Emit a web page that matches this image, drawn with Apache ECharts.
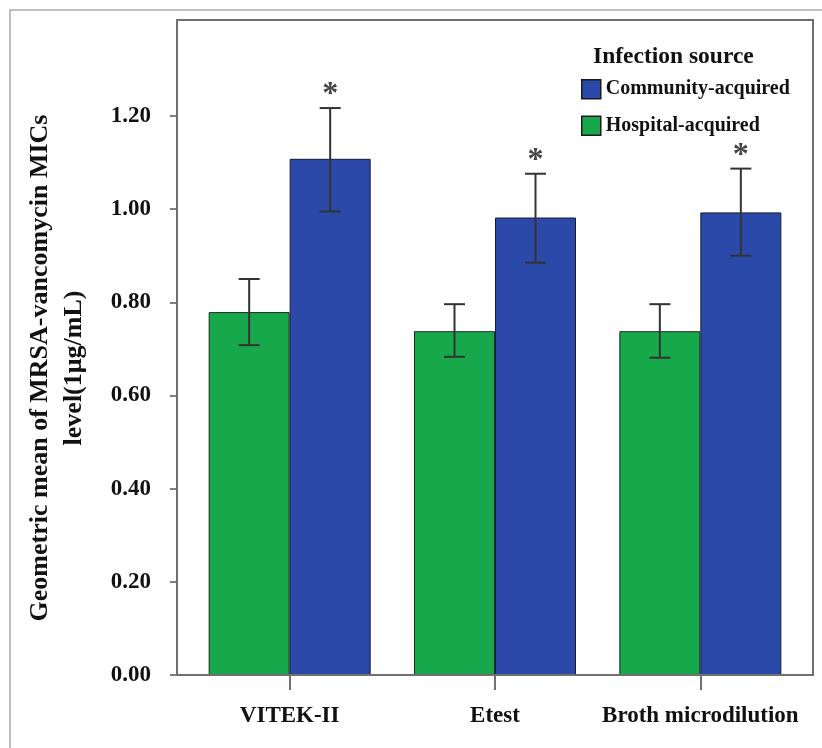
<!DOCTYPE html>
<html>
<head>
<meta charset="utf-8">
<script src="https://cdn.jsdelivr.net/npm/echarts@6/dist/echarts.min.js"></script>
<style>
    html, body { margin: 0; padding: 0; background: #fff; }
    #chart { width: 822px; height: 748px; }
</style>
</head>
<body>
<div id="chart"></div>
<script>
// data
const categories = ['VITEK-II', 'Etest', 'Broth microdilution']
const hospitalMean = [0.779, 0.738, 0.738]
const hospitalLow = [0.708, 0.683, 0.681]
const hospitalHigh = [0.850, 0.796, 0.796]
const communityMean = [1.108, 0.982, 0.993]
const communityLow = [0.995, 0.885, 0.900]
const communityHigh = [1.217, 1.076, 1.087]
const significant = ['*', '*', '*']
const yTicks = [0, 0.2, 0.4, 0.6, 0.8, 1.0, 1.2]

const FONT = "'Liberation Serif', 'Times New Roman', serif"
const GREEN = '#16a84b'
const BLUE = '#2b49a9'
const BAR_W = 81

const chart = echarts.init(document.getElementById('chart'))

function errorBar(sign) {
    return function (params, api) {
        const idx = api.value(0)
        const lo = api.coord([idx, api.value(1)])
        const hi = api.coord([idx, api.value(2)])
        const x = lo[0] + sign * BAR_W / 2
        const style = { stroke: '#333', lineWidth: 2 }
        const children = [
            { type: 'line', shape: { x1: x, y1: hi[1], x2: x, y2: lo[1] }, style: style },
            { type: 'line', shape: { x1: x - 10.5, y1: hi[1], x2: x + 10.5, y2: hi[1] }, style: style },
            { type: 'line', shape: { x1: x - 10.5, y1: lo[1], x2: x + 10.5, y2: lo[1] }, style: style }
        ]
        const mark = significant[idx]
        if (sign > 0 && mark) {
            children.push({
                type: 'text',
                style: {
                    x: x, y: hi[1] - 13, text: mark,
                    fill: '#444', font: 'bold 32px ' + FONT,
                    align: 'center', verticalAlign: 'middle'
                }
            })
        }
        return { type: 'group', children: children }
    }
}

const option = {
    animation: false,
    grid: { left: 187, right: 19, top: 20, bottom: 73 },
    legend: {
        data: ['Community-acquired', 'Hospital-acquired'],
        orient: 'vertical',
        left: 581,
        top: 79,
        padding: 0,
        icon: 'rect',
        itemWidth: 19,
        itemHeight: 19,
        itemGap: 16,
        itemStyle: { borderColor: '#1a1a1a', borderWidth: 1.5 },
        textStyle: { fontFamily: FONT, fontWeight: 'bold', fontSize: 20, color: '#111' }
    },
    xAxis: {
        type: 'category',
        data: categories,
        axisLine: { show: false },
        axisTick: { show: true, interval: 0, alignWithLabel: true, length: 15, lineStyle: { color: '#444', width: 1.5 } },
        axisLabel: { interval: 0, margin: 30, fontFamily: FONT, fontWeight: 'bold', fontSize: 23, color: '#111' }
    },
    yAxis: {
        type: 'value',
        min: 0,
        max: 1.406,
        offset: 10,
        splitLine: { show: false },
        axisLine: { show: false },
        axisTick: { show: true, customValues: yTicks, length: 7, lineStyle: { color: '#555', width: 1.5 } },
        axisLabel: {
            customValues: yTicks,
            margin: 26,
            fontFamily: FONT, fontWeight: 'bold', fontSize: 23, color: '#111',
            formatter: v => v.toFixed(2)
        }
    },
    graphic: [
        {
            type: 'rect', z: 0, silent: true,
            shape: { x: 10, y: 10, width: 900, height: 900 },
            style: { fill: 'none', stroke: '#aaa', lineWidth: 1.5 }
        },
        {
            type: 'rect', z: 100, silent: true,
            shape: { x: 177, y: 20, width: 636, height: 655 },
            style: { fill: 'none', stroke: '#707070', lineWidth: 2 }
        },
        {
            type: 'text', silent: true,
            x: 593, y: 57,
            style: {
                text: 'Infection source',
                font: 'bold 23.5px ' + FONT, fill: '#111',
                align: 'left', verticalAlign: 'middle'
            }
        },
        {
            type: 'text', silent: true,
            x: 57, y: 368, rotation: Math.PI / 2,
            style: {
                text: 'Geometric mean of MRSA-vancomycin MICs\nlevel(1μg/mL)',
                font: 'bold 26px ' + FONT, fill: '#111', lineHeight: 34,
                align: 'center', verticalAlign: 'middle'
            }
        }
    ],
    series: [
        {
            name: 'Hospital-acquired',
            type: 'bar',
            data: hospitalMean,
            barWidth: BAR_W,
            barGap: '0%',
            itemStyle: { color: GREEN, borderColor: '#1c2a22', borderWidth: 1 }
        },
        {
            name: 'Community-acquired',
            type: 'bar',
            data: communityMean,
            barWidth: BAR_W,
            barGap: '0%',
            itemStyle: { color: BLUE, borderColor: '#141c3a', borderWidth: 1 }
        },
        {
            type: 'custom',
            z: 5,
            renderItem: errorBar(-1),
            data: categories.map((c, i) => [i, hospitalLow[i], hospitalHigh[i]])
        },
        {
            type: 'custom',
            z: 5,
            renderItem: errorBar(1),
            data: categories.map((c, i) => [i, communityLow[i], communityHigh[i]])
        }
    ]
}

chart.setOption(option)
</script>
</body>
</html>
